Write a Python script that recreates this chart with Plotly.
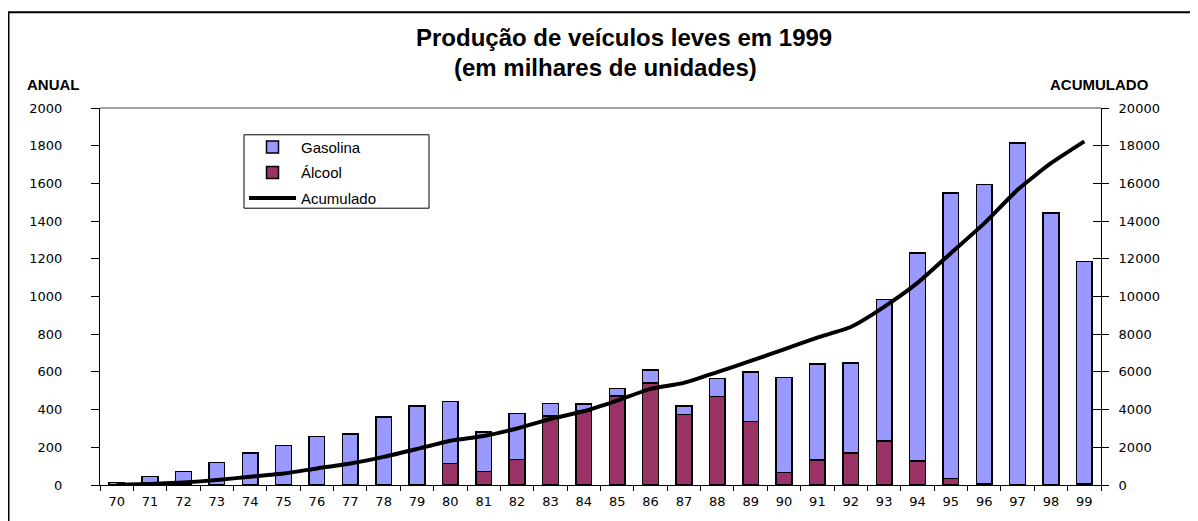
import plotly.graph_objects as go

anos = ["70","71","72","73","74","75","76","77","78","79",
        "80","81","82","83","84","85","86","87","88","89",
        "90","91","92","93","94","95","96","97","98","99"]
alcool = [0, 0, 0, 0, 0, 0, 0, 0, 0, 0,
          114, 72, 135, 366, 392, 471, 540, 373, 469, 336,
          67, 132, 169, 234, 127, 34, 5, 1, 1, 9]
gasolina = [13, 44, 71, 120, 169, 209, 258, 271, 361, 419,
            329, 209, 245, 66, 37, 40, 70, 47, 97, 263,
            504, 511, 479, 749, 1105, 1514, 1589, 1814, 1442, 1177]
acumulado = [10, 55, 126, 264, 440, 610, 880, 1140, 1490, 1910,
             2350, 2600, 3000, 3500, 3910, 4480, 5100, 5420, 5990, 6580,
             7200, 7820, 8380, 9450, 10720, 12300, 13880, 15660, 17070, 18230]

# page is offset by the 8px body margin; work in figure pixels
W, H = 1190, 513
L, R, T, B = 92, 1093, 100, 480
pw, ph = R - L, B - T
def px(x):
    return (x - L) / pw
def py(y):
    return (B - y) / ph

ARIAL = "Liberation Sans, Arial, sans-serif"
TICK = "DejaVu Sans, sans-serif"

fig = go.Figure()
fig.add_trace(go.Bar(x=anos, y=alcool, name="Álcool", legendgroup="b",
                     marker=dict(color="#993366", line=dict(color="black", width=1.5)),
                     legendrank=2))
fig.add_trace(go.Bar(x=anos, y=gasolina, name="Gasolina", legendgroup="a",
                     marker=dict(color="#9999FF", line=dict(color="black", width=1.5)),
                     legendrank=1))
fig.add_trace(go.Scatter(x=anos, y=acumulado, name="Acumulado", mode="lines",
                         legendgroup="c",
                         line=dict(color="black", width=4, shape="spline", smoothing=0.5),
                         yaxis="y2", legendrank=3))
# helper trace giving the right axis its inner tick half
fig.add_trace(go.Scatter(x=anos, y=acumulado, yaxis="y3", mode="lines",
                         line=dict(width=0), showlegend=False, hoverinfo="skip",
                         opacity=0))

fig.update_layout(
    width=W, height=H,
    margin=dict(l=L, r=W - R, t=T, b=H - B, pad=0),
    paper_bgcolor="white", plot_bgcolor="white",
    barmode="stack", bargap=0.53,
    font=dict(family=ARIAL, size=13, color="black"),
    showlegend=True,
    legend=dict(x=px(236), y=py(123), xanchor="left", yanchor="top",
                borderwidth=0, bgcolor="rgba(0,0,0,0)",
                font=dict(size=15, family=ARIAL), traceorder="grouped",
                itemwidth=47, tracegroupgap=3),
    xaxis=dict(type="category", showline=True, linecolor="black", linewidth=1,
               ticks="outside", ticklen=5, tickcolor="black", tickson="boundaries",
               showgrid=False, zeroline=False,
               tickfont=dict(size=13, family=TICK), ticklabelstandoff=4),
    yaxis=dict(range=[0, 2000], dtick=200, showline=True, linecolor="black",
               linewidth=1, ticks="outside", ticklen=8, tickcolor="black",
               showgrid=False, zeroline=False,
               tickfont=dict(size=13, family=TICK), ticklabelstandoff=26),
    yaxis2=dict(range=[0, 20000], dtick=2000, tickformat="d", overlaying="y",
                side="right", showline=True, linecolor="black", linewidth=1,
                ticks="outside", ticklen=7, tickcolor="black", showgrid=False,
                zeroline=False, tickfont=dict(size=13, family=TICK),
                ticklabelstandoff=7),
    yaxis3=dict(range=[0, 20000], dtick=2000, overlaying="y", side="right",
                showline=False, ticks="inside", ticklen=8, tickcolor="black",
                showticklabels=False, showgrid=False, zeroline=False),
    shapes=[
        dict(type="line", xref="paper", yref="paper", x0=0, x1=1, y0=1, y1=1,
             line=dict(color="#808080", width=1.5)),
        dict(type="rect", xref="paper", yref="paper",
             x0=px(0.5), x1=px(1260), y0=py(560), y1=py(3.5),
             line=dict(color="black", width=2), fillcolor="rgba(0,0,0,0)"),
        dict(type="rect", xref="paper", yref="paper", layer="above",
             x0=px(236), x1=px(421), y0=py(201), y1=py(127),
             line=dict(color="black", width=1), fillcolor="rgba(0,0,0,0)"),
    ],
    annotations=[
        dict(text="<b>Produção de veículos leves em 1999</b>", xref="paper", yref="paper",
             x=px(616), y=py(29), xanchor="center", yanchor="middle", showarrow=False,
             font=dict(size=24, family=ARIAL)),
        dict(text="<b>(em milhares de unidades)</b>", xref="paper", yref="paper",
             x=px(597.5), y=py(59), xanchor="center", yanchor="middle", showarrow=False,
             font=dict(size=24, family=ARIAL)),
        dict(text="<b>ANUAL</b>", xref="paper", yref="paper",
             x=px(17), y=py(76), xanchor="left", yanchor="middle", showarrow=False,
             font=dict(size=15, family=ARIAL)),
        dict(text="<b>ACUMULADO</b>", xref="paper", yref="paper",
             x=px(1040), y=py(76), xanchor="left", yanchor="middle", showarrow=False,
             font=dict(size=15, family=ARIAL)),
    ],
)

fig.write_html("out.html")
